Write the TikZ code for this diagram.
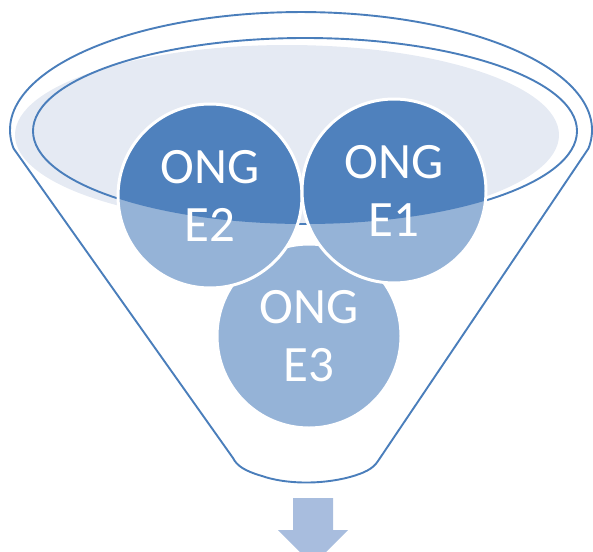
\documentclass[tikz,border=0pt]{standalone}
\usepackage{fontspec}
\setmainfont{Carlito}
\definecolor{dark}{RGB}{79,129,189}
\definecolor{light}{RGB}{149,179,215}
\definecolor{linec}{RGB}{74,126,187}
\definecolor{pale}{RGB}{229,234,243}
\definecolor{arrowc}{RGB}{168,189,222}
\begin{document}
\begin{tikzpicture}[x=1pt,y=-1pt,
  funnel/.style={draw=linec, line width=1.9pt, line join=round},
  ong/.style={circle, minimum size=184pt, inner sep=0pt, fill=light, draw=white,
    line width=3pt, text=white, align=center,
    font=\fontsize{51}{58}\selectfont,
    path picture={\fill[dark] (rim) ellipse [x radius=272, y radius=93];}},
]
\useasboundingbox (0,0) rectangle (593,551);
\clip (0,0) rectangle (593,551);
\coordinate (rim) at (305,131);
\coordinate (glow) at (287,135);
\coordinate (mouth) at (13.6,148.5);
% funnel outline
\draw[funnel] (mouth) arc[start angle=171, end angle=369, x radius=291, y radius=118]
  -- (378,461) .. controls (373,469) and (364,473) .. (350,477)
  .. controls (320,485) and (285,484) .. (262,476)
  .. controls (245,471) and (237,466) .. (233,458) -- cycle;
% rim
\fill[pale] (glow) ellipse [x radius=272, y radius=90];
\draw[funnel] (rim) ellipse [x radius=272, y radius=93];
% circles
\node[ong] (e3) at (309,336) {ONG\\E3};
\node[ong] (e2) at (210,196) {ONG\\E2};
\node[ong] (e1) at (394,191) {ONG\\E1};
% arrow
\fill[arrowc] (293,498) -- (333,498) -- (333,530) -- (348,530) -- (313,565)
  -- (278,530) -- (293,530) -- cycle;
\end{tikzpicture}
\end{document}
